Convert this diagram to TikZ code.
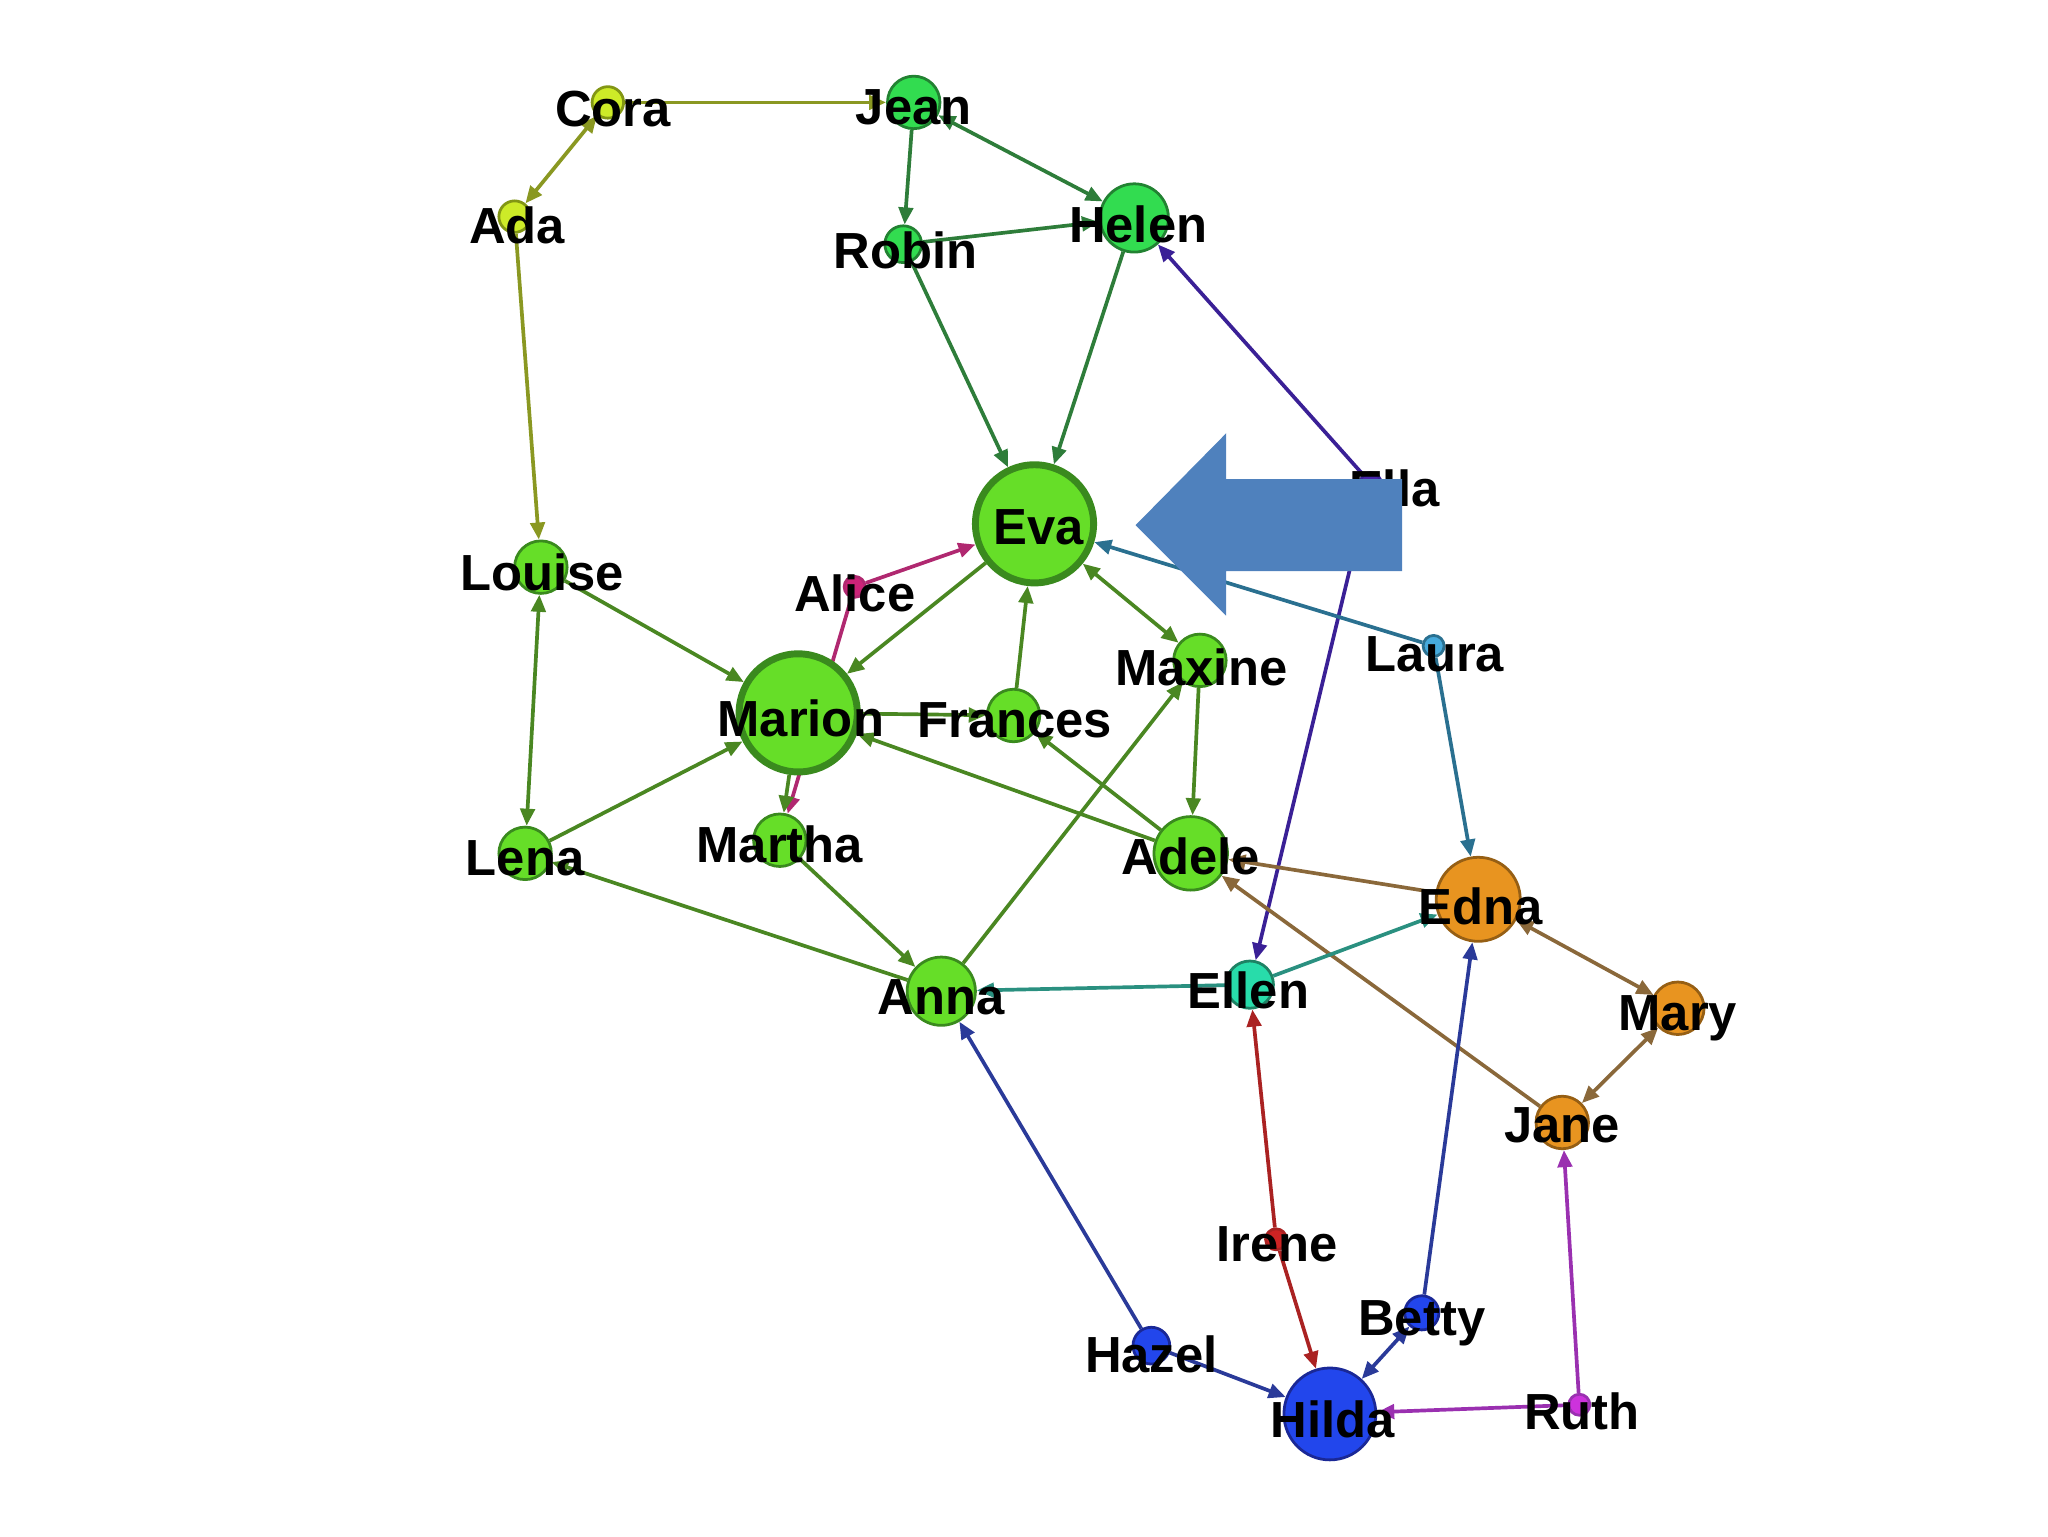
\documentclass[tikz,border=0pt]{standalone}
\usepackage{fontspec}
\setmainfont{Liberation Sans}
\usetikzlibrary{arrows.meta}

\pgfdeclarelayer{ties}
\pgfsetlayers{ties,main}

% Node fills and outlines.
\definecolor{limefill}{RGB}{102,222,40}
\definecolor{limeline}{RGB}{58,138,30}
\definecolor{greenfill}{RGB}{50,220,80}
\definecolor{greenline}{RGB}{34,130,50}
\definecolor{yellowfill}{RGB}{205,235,40}
\definecolor{yellowline}{RGB}{130,150,20}
\definecolor{orangefill}{RGB}{232,148,32}
\definecolor{orangeline}{RGB}{150,95,20}
\definecolor{bluefill}{RGB}{34,70,236}
\definecolor{blueline}{RGB}{26,40,150}
\definecolor{tealfill}{RGB}{40,220,170}
\definecolor{tealline}{RGB}{30,130,100}
\definecolor{alicefill}{RGB}{205,35,120}
\definecolor{laurafill}{RGB}{70,170,220}
\definecolor{irenefill}{RGB}{205,35,35}
\definecolor{ruthfill}{RGB}{205,50,220}
\definecolor{ellafill}{RGB}{70,35,170}

% Tie colours.
\definecolor{oliveedge}{RGB}{138,152,34}
\definecolor{darkgreenedge}{RGB}{46,125,58}
\definecolor{greenedge}{RGB}{74,135,34}
\definecolor{purpleedge}{RGB}{58,32,150}
\definecolor{lauraedge}{RGB}{42,112,144}
\definecolor{aliceedge}{RGB}{176,40,112}
\definecolor{brownedge}{RGB}{138,104,58}
\definecolor{tealedge}{RGB}{42,144,128}
\definecolor{navyedge}{RGB}{42,58,153}
\definecolor{rededge}{RGB}{170,34,34}
\definecolor{violetedge}{RGB}{154,48,176}
\definecolor{pointer}{RGB}{79,129,189}

\begin{document}
\begin{tikzpicture}[x=0.1mm, y=-0.1mm, >={Triangle[length=1.3mm, width=1.1mm]},
  person/.style = {circle, draw, inner sep=0pt, line width=0.6pt},
  central/.style = {person, line width=1.5pt},
  name label/.style = {font=\fontsize{11}{13}\selectfont\bfseries, inner sep=0pt},
  tie/.style = {line width=0.8pt}]

  \useasboundingbox (0, 0) rectangle (1560, 1170);

  % People.
  \node at (463, 78) [person, minimum size=2.4mm, fill=yellowfill, draw=yellowline, name=Cora,
        label={[name label, xshift=0.4mm, yshift=-0.5mm]center:Cora}] {};
  \node at (696, 78) [person, minimum size=4mm, fill=greenfill, draw=greenline, name=Jean,
        label={[name label, yshift=-0.4mm]center:Jean}] {};
  \node at (392, 165) [person, minimum size=2.4mm, fill=yellowfill, draw=yellowline, name=Ada,
        label={[name label, xshift=0.2mm, yshift=-0.7mm]center:Ada}] {};
  \node at (688, 186) [person, minimum size=2.8mm, fill=greenfill, draw=greenline, name=Robin,
        label={[name label, xshift=0.2mm, yshift=-0.5mm]center:Robin}] {};
  \node at (864, 166) [person, minimum size=5.2mm, fill=greenfill, draw=greenline, name=Helen,
        label={[name label, xshift=0.3mm, yshift=-0.5mm]center:Helen}] {};
  \node at (1044, 368) [person, minimum size=1.6mm, fill=ellafill, draw=purpleedge, name=Ella,
        label={[name label, xshift=1.8mm, yshift=-0.4mm]center:Ella}] {};
  \node at (788, 399) [central, minimum size=9mm, fill=limefill, draw=limeline, name=Eva,
        label={[name label, xshift=0.3mm, yshift=-0.3mm]center:Eva}] {};
  \node at (412, 432) [person, minimum size=4mm, fill=limefill, draw=limeline, name=Louise,
        label={[name label, xshift=0.1mm, yshift=-0.4mm]center:Louise}] {};
  \node at (651, 447) [person, minimum size=1.6mm, fill=alicefill, draw=aliceedge, name=Alice,
        label={[name label, yshift=-0.5mm]center:Alice}] {};
  \node at (914, 503) [person, minimum size=4mm, fill=limefill, draw=limeline, name=Maxine,
        label={[name label, xshift=0.1mm, yshift=-0.5mm]center:Maxine}] {};
  \node at (1092, 492) [person, minimum size=1.6mm, fill=laurafill, draw=lauraedge, name=Laura,
        label={[name label, xshift=0.1mm, yshift=-0.6mm]center:Laura}] {};
  \node at (608, 543) [central, minimum size=9mm, fill=limefill, draw=limeline, name=Marion,
        label={[name label, xshift=0.2mm, yshift=-0.4mm]center:Marion}] {};
  \node at (772, 545) [person, minimum size=4mm, fill=limefill, draw=limeline, name=Frances,
        label={[name label, xshift=0.1mm, yshift=-0.4mm]center:Frances}] {};
  \node at (400, 650) [person, minimum size=4mm, fill=limefill, draw=limeline, name=Lena,
        label={[name label, yshift=-0.4mm]center:Lena}] {};
  \node at (594, 640) [person, minimum size=4mm, fill=limefill, draw=limeline, name=Martha,
        label={[name label, yshift=-0.3mm]center:Martha}] {};
  \node at (907, 650) [person, minimum size=5.6mm, fill=limefill, draw=limeline, name=Adele,
        label={[name label, yshift=-0.2mm]center:Adele}] {};
  \node at (1126, 685) [person, minimum size=6.4mm, fill=orangefill, draw=orangeline, name=Edna,
        label={[name label, xshift=0.2mm, yshift=-0.5mm]center:Edna}] {};
  \node at (952, 750) [person, minimum size=3.6mm, fill=tealfill, draw=tealline, name=Ellen,
        label={[name label, xshift=-0.1mm, yshift=-0.4mm]center:Ellen}] {};
  \node at (717, 755) [person, minimum size=5.2mm, fill=limefill, draw=limeline, name=Anna,
        label={[name label, yshift=-0.5mm]center:Anna}] {};
  \node at (1278, 768) [person, minimum size=4mm, fill=orangefill, draw=orangeline, name=Mary,
        label={[name label, yshift=-0.8mm]center:Mary}] {};
  \node at (1190, 855) [person, minimum size=4mm, fill=orangefill, draw=orangeline, name=Jane,
        label={[name label, yshift=-0.2mm]center:Jane}] {};
  \node at (972, 944) [person, minimum size=1.6mm, fill=irenefill, draw=rededge, name=Irene,
        label={[name label, xshift=0.1mm, yshift=-0.4mm]center:Irene}] {};
  \node at (1083, 1000) [person, minimum size=2.6mm, fill=bluefill, draw=blueline, name=Betty,
        label={[name label, yshift=-0.8mm]center:Betty}] {};
  \node at (877, 1025) [person, minimum size=2.8mm, fill=bluefill, draw=blueline, name=Hazel,
        label={[name label, yshift=-0.7mm]center:Hazel}] {};
  \node at (1013, 1077) [person, minimum size=7mm, fill=bluefill, draw=blueline, name=Hilda,
        label={[name label, xshift=0.2mm, yshift=-0.4mm]center:Hilda}] {};
  \node at (1203, 1070) [person, minimum size=1.6mm, fill=ruthfill, draw=violetedge, name=Ruth,
        label={[name label, xshift=0.2mm, yshift=-0.5mm]center:Ruth}] {};

  \begin{pgfonlayer}{ties}
    % Top left.
    \draw [tie, oliveedge, ->] (Cora) to (Jean);
    \draw [tie, oliveedge, <->] (Ada) to (Cora);
    \draw [tie, oliveedge, ->] (Ada) to (Louise);

    % Jean, Robin and Helen.
    \draw [tie, darkgreenedge, ->] (Jean) to (Robin);
    \draw [tie, darkgreenedge, <->] (Jean) to (Helen);
    \draw [tie, darkgreenedge, ->] (Robin) to (Helen);
    \draw [tie, darkgreenedge, ->] (Robin) to (Eva);
    \draw [tie, darkgreenedge, ->] (Helen) to (Eva);

    % Ella and Laura.
    \draw [tie, purpleedge, ->] (Ella) to (Helen);
    \draw [tie, purpleedge, ->] (Ella) to (Ellen);
    \draw [tie, lauraedge, ->] (Laura) to (Eva);
    \draw [tie, lauraedge, ->] (Laura) to (Edna);

    % Alice.
    \draw [tie, aliceedge, ->] (Alice) to (Eva);
    \draw [tie, aliceedge, ->] (Alice) to (Martha);

    % Middle group.
    \draw [tie, greenedge, ->] (Eva) to (Marion);
    \draw [tie, greenedge, <->] (Eva) to (Maxine);
    \draw [tie, greenedge, ->] (Frances) to (Eva);
    \draw [tie, greenedge, ->] (Marion) to (Frances);
    \draw [tie, greenedge, ->] (Louise) to (Marion);
    \draw [tie, greenedge, <->] (Louise) to (Lena);
    \draw [tie, greenedge, ->] (Lena) to (Marion);
    \draw [tie, greenedge, ->] (Marion) to (Martha);
    \draw [tie, greenedge, ->] (Anna) to (Lena);
    \draw [tie, greenedge, ->] (Martha) to (Anna);
    \draw [tie, greenedge, ->] (Anna) to (Maxine);
    \draw [tie, greenedge, ->] (Maxine) to (Adele);
    \draw [tie, greenedge, ->] (Adele) to (Marion);
    \draw [tie, greenedge, ->] (Adele) to (Frances);

    % Orange group.
    \draw [tie, brownedge, ->] (Edna) to (Adele);
    \draw [tie, brownedge, ->] (Jane) to (Adele);
    \draw [tie, brownedge, <->] (Edna) to (Mary);
    \draw [tie, brownedge, <->] (Mary) to (Jane);

    % Ellen.
    \draw [tie, tealedge, ->] (Ellen) to (Edna);
    \draw [tie, tealedge, ->] (Ellen) to (Anna);

    % Bottom group.
    \draw [tie, navyedge, ->] (Hazel) to (Anna);
    \draw [tie, navyedge, ->] (Hazel) to (Hilda);
    \draw [tie, navyedge, ->] (Betty) to (Edna);
    \draw [tie, navyedge, <->] (Betty) to (Hilda);
    \draw [tie, rededge, ->] (Irene) to (Ellen);
    \draw [tie, rededge, ->] (Irene) to (Hilda);
    \draw [tie, violetedge, ->] (Ruth) to (Hilda);
    \draw [tie, violetedge, ->] (Ruth) to (Jane);
  \end{pgfonlayer}

  % Pointer onto Eva.
  \fill [pointer] (865, 400) -- (934, 330) -- (934, 365) -- (1068, 365)
                  -- (1068, 435) -- (934, 435) -- (934, 469) -- cycle;
\end{tikzpicture}
\end{document}
